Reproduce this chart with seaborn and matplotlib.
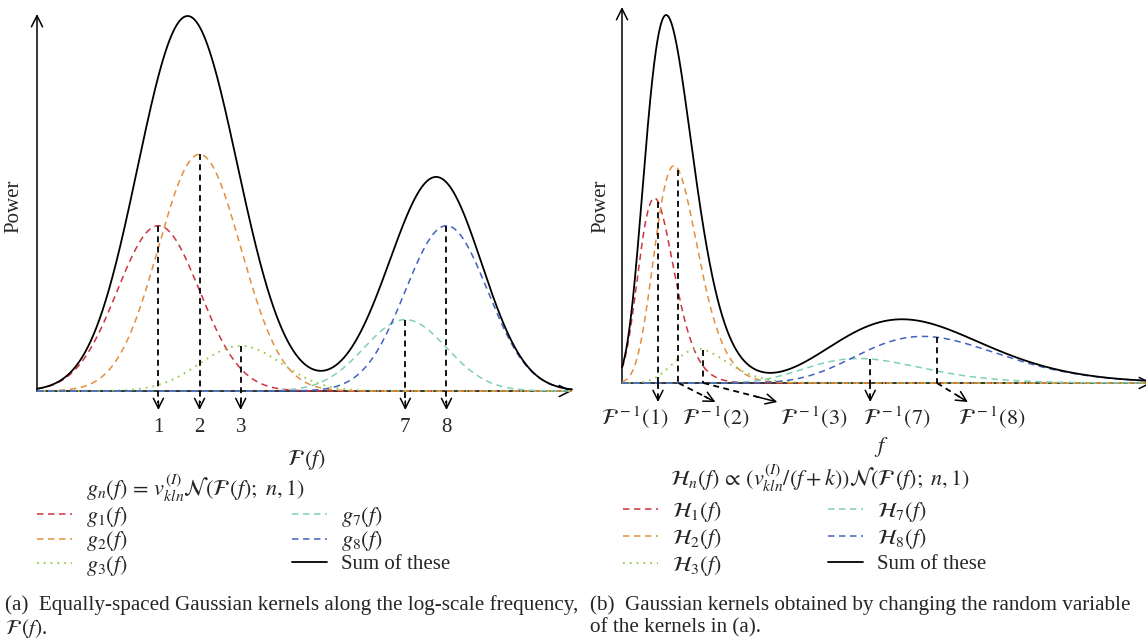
import numpy as np
import pandas as pd
import matplotlib
matplotlib.use('Agg')
import matplotlib.pyplot as plt
import seaborn as sns

# ---------------- data ----------------
kernel_index = [1, 2, 3, 7, 8]
kernel_weight = [0.44, 0.63, 0.12, 0.19, 0.44]          # v_kln^(I) (peak heights)
kernel_color = ['#d0323f', '#e38f3c', '#98cc55', '#7fcfb3', '#4461bf']
kernel_style = ['dash', 'dash', 'dot', 'dash', 'dash']
left_labels = [r'$g_1(f)$', r'$g_2(f)$', r'$g_3(f)$', r'$g_7(f)$', r'$g_8(f)$']
right_labels = [r'$\mathcal{H}_1(f)$', r'$\mathcal{H}_2(f)$', r'$\mathcal{H}_3(f)$',
                r'$\mathcal{H}_7(f)$', r'$\mathcal{H}_8(f)$']
inverse_labels = [r'$\mathcal{F}^{\,-1}(1)$', r'$\mathcal{F}^{\,-1}(2)$', r'$\mathcal{F}^{\,-1}(3)$',
                  r'$\mathcal{F}^{\,-1}(7)$', r'$\mathcal{F}^{\,-1}(8)$']
tick_labels = ['1', '2', '3', '7', '8']
sum_label = 'Sum of these'
left_formula = r'$g_n(f) \,=\, v^{(I)}_{kln}\mathcal{N}(\mathcal{F}\,(f);\ n, 1)$'
right_formula = r'$\mathcal{H}_n(f) \,\propto\, (v^{(I)}_{kln}/(f+k))\mathcal{N}(\mathcal{F}\,(f);\ n, 1)$'
caption_a = ['(a)  Equally-spaced Gaussian kernels along the log-scale frequency,', r'$\mathcal{F}\,(f)$.']
caption_b = ['(b)  Gaussian kernels obtained by changing the random variable', 'of the kernels in (a).']
# warping  F(f) = scale * ln(f + k) + offset
warp_k = 1.0
warp_scale = 5.079
warp_offset = -1.452
F_range = (-1.95, 11.05)
f_range = (0.0, 9.14)

# ---------------- setup ----------------
sns.set_theme(style='white')
plt.rcParams['font.family'] = ['Liberation Serif', 'DejaVu Serif']
plt.rcParams['mathtext.fontset'] = 'stix'
W, H = 1146, 644
fig = plt.figure(figsize=(W / 100, H / 100), dpi=100)


def fig_axes(x0, x1, ytop, ybot):
    return fig.add_axes([x0 / W, 1 - ybot / H, (x1 - x0) / W, (ybot - ytop) / H])


def warp(f):
    return warp_scale * np.log(f + warp_k) + warp_offset


def inv_warp(F):
    return np.exp((F - warp_offset) / warp_scale) - warp_k


def gauss(F, n):
    return np.exp(-(F - n) ** 2 / 2)


dash_map = {'dash': (0, (4.2, 3.0)), 'dot': (0, (0.9, 2.6))}
width_map = {'dash': 1.1, 'dot': 1.4}
FS = 14      # plain text
MFS = 16     # math labels

# ================= left panel =================
axL = fig_axes(37, 572, 14, 391)
Fx = np.linspace(F_range[0], F_range[1], 1200)
compsL = [w * gauss(Fx, n) for n, w in zip(kernel_index, kernel_weight)]
sumL = np.sum(compsL, axis=0)
ytopL = sumL.max() * 377 / 375
axL.set_xlim(*F_range)
axL.set_ylim(0, ytopL)
pxL_y = 377 / ytopL

handlesL = []
for comp, c, s, lab in zip(compsL, kernel_color, kernel_style, left_labels):
    sns.lineplot(x=Fx, y=comp, ax=axL, color=c, lw=width_map[s], linestyle=dash_map[s],
                 estimator=None, sort=False, zorder=3, clip_on=False)
    handlesL.append((axL.lines[-1], lab))
sns.lineplot(x=Fx, y=sumL, ax=axL, color='black', lw=1.3, estimator=None, sort=False,
             zorder=4, clip_on=False)
handlesL.append((axL.lines[-1], sum_label))

for n, w, t in zip(kernel_index, kernel_weight, tick_labels):
    top = w * gauss(n, n)
    axL.plot([n, n], [top, -12 / pxL_y], color='black', lw=1.3, linestyle=(0, (3.3, 2.4)),
             clip_on=False, zorder=5)
    axL.annotate('', xy=(n, -19 / pxL_y), xytext=(n, -10 / pxL_y),
                 arrowprops=dict(arrowstyle='->', lw=1.1, color='black', shrinkA=0, shrinkB=0,
                                 mutation_scale=18), annotation_clip=False)
    axL.text(n, -36 / pxL_y, t, ha='center', va='center', fontsize=15)

# ================= right panel =================
x0R, x1R = 622, 1152
axR = fig_axes(x0R, x1R, 7, 383)
fx = np.linspace(f_range[0], f_range[1], 1500)
compsR = [w / (fx + warp_k) * gauss(warp(fx), n) for n, w in zip(kernel_index, kernel_weight)]
sumR = np.sum(compsR, axis=0)
ytopR = sumR.max() * 376 / 368
axR.set_xlim(*f_range)
axR.set_ylim(0, ytopR)
pxR_x = (x1R - x0R) / (f_range[1] - f_range[0])
pxR_y = 376 / ytopR

handlesR = []
for comp, c, s, lab in zip(compsR, kernel_color, kernel_style, right_labels):
    sns.lineplot(x=fx, y=comp, ax=axR, color=c, lw=width_map[s], linestyle=dash_map[s],
                 estimator=None, sort=False, zorder=3, clip_on=False)
    handlesR.append((axR.lines[-1], lab))
sns.lineplot(x=fx, y=sumR, ax=axR, color='black', lw=1.3, estimator=None, sort=False,
             zorder=4, clip_on=False)
handlesR.append((axR.lines[-1], sum_label))

arrow_dx = [0, 37, 74, 0, 31]       # px offset of arrow tip
label_dx = [-57, -33, 3, -7, -10]   # px offset of label left edge from tip
for n, w, lab, adx, ldx in zip(kernel_index, kernel_weight, inverse_labels, arrow_dx, label_dx):
    fn = inv_warp(n)
    top = w / (fn + warp_k) * gauss(n, n)
    axR.plot([fn, fn], [top, 0], color='black', lw=1.3, linestyle=(0, (3.3, 2.4)),
             clip_on=False, zorder=5)
    tipx = fn + adx / pxR_x
    tipy = -19 / pxR_y
    frac = 0.8
    axR.plot([fn, fn + frac * (tipx - fn)], [0, frac * tipy], color='black', lw=1.3,
             linestyle=(0, (3.3, 2.4)), clip_on=False, zorder=5)
    axR.annotate('', xy=(tipx, tipy), xytext=(fn + 0.7 * (tipx - fn), 0.7 * tipy),
                 arrowprops=dict(arrowstyle='->', lw=1.1, color='black', shrinkA=0, shrinkB=0,
                                 mutation_scale=18), annotation_clip=False)
    axR.text(tipx + ldx / pxR_x, -35 / pxR_y, lab, ha='left', va='center', fontsize=MFS)

# ---------------- axes lines ----------------
for ax in (axL, axR):
    ax.axis('off')
    ax.annotate('', xy=(1, 0), xytext=(0, 0), xycoords='axes fraction',
                arrowprops=dict(arrowstyle='->', lw=1.1, color='black', shrinkA=0, shrinkB=0,
                                mutation_scale=20), zorder=1, annotation_clip=False)
    ax.annotate('', xy=(0, 1), xytext=(0, 0), xycoords='axes fraction',
                arrowprops=dict(arrowstyle='->', lw=1.1, color='black', shrinkA=0, shrinkB=0,
                                mutation_scale=20), zorder=1, annotation_clip=False)


def ftext(x, y, s, **kw):
    kw.setdefault('fontsize', FS)
    fig.text(x / W, 1 - y / H, s, **kw)


ftext(14, 206, 'Power', rotation=90, ha='center', va='center', fontsize=15)
ftext(601, 206, 'Power', rotation=90, ha='center', va='center', fontsize=15)
ftext(307, 460, r'$\mathcal{F}\,(f)$', ha='center', va='center', fontsize=MFS)
ftext(881, 447, r'$f$', ha='center', va='center', fontsize=MFS)
ftext(86, 488, left_formula, ha='left', va='center', fontsize=MFS)
ftext(670, 478, right_formula, ha='left', va='center', fontsize=MFS)


def make_legend(items, x, y, spacing, hl=1.58, pad=0.63):
    fps = {'size': MFS}
    leg = fig.legend([h for h, _ in items], [l for _, l in items], loc='upper left',
                     bbox_to_anchor=(x / W, 1 - y / H), frameon=False, prop=fps,
                     handlelength=hl, handletextpad=pad, labelspacing=spacing,
                     borderpad=0, borderaxespad=0)
    for t, (_, l) in zip(leg.get_texts(), items):
        if not l.startswith('$'):
            t.set_fontsize(15)
    return leg


make_legend(handlesL[:3], 37, 505, 0.02)
make_legend(handlesL[3:], 292, 505, 0.02)
make_legend(handlesR[:3], 623, 500, 0.13)
make_legend(handlesR[3:], 828, 500, 0.13)

ftext(5, 605, caption_a[0], ha='left', va='center', fontsize=15.2)
ftext(5, 628, caption_a[1], ha='left', va='center', fontsize=15.2)
ftext(590, 605, caption_b[0], ha='left', va='center', fontsize=15.2)
ftext(590, 628, caption_b[1], ha='left', va='center', fontsize=15.2)

fig.savefig('out.png', dpi=100)
